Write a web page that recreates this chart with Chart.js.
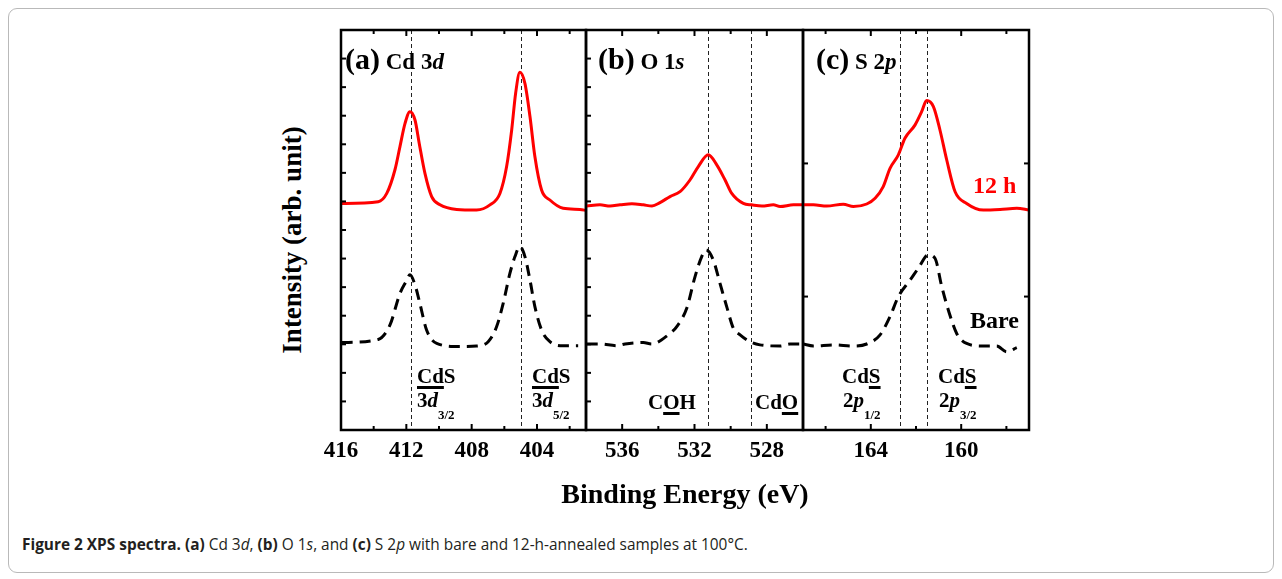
<!DOCTYPE html>
<html>
<head>
<meta charset="utf-8">
<script src="https://cdn.jsdelivr.net/npm/chart.js@4.4.1/dist/chart.umd.min.js"></script>
<style>
  html, body { margin: 0; padding: 0; background: #fff; }
  #page { position: relative; width: 1282px; height: 579px; overflow: hidden; }
  .box { position: absolute; left: 8px; top: 8px; width: 1264px; height: 563px; border: 1px solid #b9b9b9; border-radius: 9px; }
  canvas { position: absolute; }
  .t { position: absolute; font-family: 'Liberation Serif', 'Times New Roman', serif; font-weight: bold; line-height: 1; white-space: nowrap; color: #000; }
  .ann { font-size: 21px; }
  .t u { text-decoration-thickness: 3px; text-underline-offset: 3px; }
  .sub { font-size: 13px; vertical-align: -12px; }
  .cap { position: absolute; font-family: 'Open Sans', 'Noto Sans', sans-serif; font-size: 15.4px; line-height: 1; white-space: nowrap; color: #231f20; }
</style>
</head>
<body>
<div id="page">
  <div class="box"></div>
  <canvas id="panelA" width="305" height="450" style="left:311px;top:20px"></canvas>
  <canvas id="panelB" width="277" height="450" style="left:556px;top:20px"></canvas>
  <canvas id="panelC" width="286" height="450" style="left:773px;top:20px"></canvas>

  <div class="t" style="left:345px;top:44px;font-size:30px">(a)<span style="font-size:23px"> Cd 3<i>d</i></span></div>
  <div class="t" style="left:598px;top:44px;font-size:30px">(b)<span style="font-size:23px"> O 1<i>s</i></span></div>
  <div class="t" style="left:816px;top:44px;font-size:30px">(c)<span style="font-size:23px"> S 2<i>p</i></span></div>

  <div class="t" style="left:973px;top:173px;font-size:24px;color:#ff0000">12 h</div>
  <div class="t" style="left:970px;top:308px;font-size:24px">Bare</div>

  <div class="t ann" style="left:417px;top:366px"><u>Cd</u>S</div>
  <div class="t ann" style="left:417px;top:390px">3<i>d</i><span class="sub">3/2</span></div>
  <div class="t ann" style="left:532px;top:366px"><u>Cd</u>S</div>
  <div class="t ann" style="left:532px;top:390px">3<i>d</i><span class="sub">5/2</span></div>

  <div class="t ann" style="left:648px;top:392px">C<u>O</u>H</div>
  <div class="t ann" style="left:755px;top:392px">Cd<u>O</u></div>

  <div class="t ann" style="left:842px;top:366px">Cd<u>S</u></div>
  <div class="t ann" style="left:843px;top:390px">2<i>p</i><span class="sub">1/2</span></div>
  <div class="t ann" style="left:938px;top:366px">Cd<u>S</u></div>
  <div class="t ann" style="left:939px;top:390px">2<i>p</i><span class="sub">3/2</span></div>

  <div class="t" style="left:292px;top:240px;font-size:27px;transform:translate(-50%,-50%) rotate(-90deg)">Intensity (arb. unit)</div>
  <div class="t" style="left:685px;top:480px;font-size:28px;transform:translateX(-50%)">Binding Energy (eV)</div>

  <div class="cap" style="left:22px;top:537px"><b>Figure 2 XPS spectra.</b> <b>(a)</b> Cd 3<i>d</i>, <b>(b)</b> O 1<i>s</i>, and <b>(c)</b> S 2<i>p</i> with bare and 12-h-annealed samples at 100°C.</div>
</div>

<script>
// tick labels (binding energy, eV)
const ticksA = [416, 412, 408, 404];
const minorA = [414, 410, 406, 402];
const ticksB = [536, 532, 528];
const minorB = [534, 530];
const ticksC = [164, 160];
const minorC = [166, 162, 158];

// peak reference lines
const refA = [411.73, 405.0];
const refB = [531.24, 528.89];
const refC = [162.71, 161.5];

// (a) Cd 3d
const aRedX = [416.06, 413.72, 413.2, 412.7, 412.39, 412.08, 411.78, 411.47, 411.21, 410.86, 410.45, 409.94, 408.92, 407.7, 406.88, 406.27, 405.86, 405.55, 405.31, 405.05, 404.74, 404.43, 404.13, 403.72, 403.21, 402.4, 401.37, 400.96];
const aRedY = [7.93, 7.99, 8.28, 9.1, 9.92, 10.73, 11.14, 10.85, 10.03, 8.98, 8.17, 7.88, 7.72, 7.7, 7.88, 8.28, 9.22, 10.5, 11.78, 12.52, 12.13, 10.97, 9.57, 8.4, 8.05, 7.76, 7.72, 7.68];
const aBareX = [415.96, 413.72, 413.0, 412.39, 412.02, 411.78, 411.47, 411.17, 410.76, 410.14, 408.72, 407.7, 406.99, 406.47, 406.07, 405.66, 405.35, 405.05, 404.74, 404.43, 404.13, 403.72, 403.21, 402.4, 401.48];
const aBareY = [3.06, 3.17, 3.68, 4.78, 5.19, 5.43, 5.08, 4.43, 3.5, 3.03, 2.92, 2.94, 3.09, 3.62, 4.43, 5.48, 6.07, 6.42, 6.07, 5.25, 4.32, 3.5, 3.09, 2.95, 2.95];

// (b) O 1s
const bRedX = [537.96, 537.23, 536.67, 536.12, 535.46, 534.83, 534.35, 533.91, 533.35, 532.8, 532.25, 531.79, 531.24, 530.77, 530.31, 529.94, 529.3, 528.84, 528.27, 527.64, 527.27, 526.53, 526.0];
const bRedY = [7.84, 7.88, 7.84, 7.88, 7.92, 7.88, 7.84, 7.96, 8.17, 8.34, 8.75, 9.22, 9.63, 9.28, 8.75, 8.28, 7.93, 7.88, 7.84, 7.88, 7.82, 7.88, 7.88];
const bBareX = [537.96, 537.23, 536.3, 535.84, 534.83, 534.37, 533.45, 532.98, 532.43, 531.97, 531.6, 531.36, 530.96, 530.59, 530.22, 529.85, 529.48, 528.93, 528.38, 527.27, 526.72, 526.0];
const bBareY = [3.01, 3.01, 2.95, 3.01, 3.06, 3.01, 3.33, 3.62, 4.26, 5.37, 6.07, 6.3, 5.95, 5.13, 4.32, 3.56, 3.33, 3.09, 2.98, 2.94, 3.01, 3.01];

// (c) S 2p
const cRedX = [167.0, 166.54, 165.95, 165.22, 164.77, 164.18, 163.81, 163.45, 163.15, 162.78, 162.49, 162.04, 161.75, 161.53, 161.23, 160.94, 160.64, 160.27, 159.76, 159.02, 158.28, 157.54, 157.0];
const cRedY = [7.88, 7.88, 7.84, 7.9, 7.82, 7.91, 8.11, 8.52, 9.16, 9.63, 10.21, 10.68, 11.14, 11.53, 11.32, 10.5, 9.45, 8.34, 7.93, 7.7, 7.72, 7.76, 7.7];
const cBareX = [167.0, 166.54, 165.66, 164.77, 164.18, 163.59, 163.15, 162.78, 162.26, 161.9, 161.46, 161.16, 160.86, 160.57, 160.2, 159.76, 159.02, 158.43, 157.99, 157.54];
const cBareY = [3.01, 2.94, 2.98, 2.94, 3.01, 3.33, 3.97, 4.67, 5.25, 5.66, 6.13, 6.01, 5.02, 4.2, 3.38, 3.03, 2.94, 2.94, 2.74, 2.88];

// inner y ticks per panel
const yTicksA = [1, 2, 3, 4, 5, 6, 7, 8, 9, 10, 11, 12, 13];
const yTicksB = [1, 2, 3, 4, 5, 6, 7, 8, 9, 10, 11, 12, 13];
const yTicksC = [4.67, 9.33];

const framePlugin = {
    id: 'frame',
    beforeDatasetsDraw(chart, args, opts) {
        const { ctx, chartArea: a, scales: { x } } = chart;
        ctx.save();
        ctx.strokeStyle = '#222';
        ctx.lineWidth = 1;
        ctx.setLineDash([4, 3]);
        opts.refs.forEach(v => {
            const px = Math.round(x.getPixelForValue(v)) + 0.5;
            ctx.beginPath();
            ctx.moveTo(px, a.top);
            ctx.lineTo(px, a.bottom);
            ctx.stroke();
        });
        ctx.restore();
    },
    afterDatasetsDraw(chart, args, opts) {
        const { ctx, chartArea: a, scales: { x, y } } = chart;
        ctx.save();
        ctx.strokeStyle = '#000';
        ctx.lineWidth = 2;
        const line = (x1, y1, x2, y2) => {
            ctx.beginPath();
            ctx.moveTo(x1, y1);
            ctx.lineTo(x2, y2);
            ctx.stroke();
        };
        opts.major.forEach(v => {
            const px = x.getPixelForValue(v);
            line(px, a.bottom, px, a.bottom - 6);
            line(px, a.top, px, a.top + 6);
        });
        opts.minor.forEach(v => {
            const px = x.getPixelForValue(v);
            line(px, a.bottom, px, a.bottom - 4);
            line(px, a.top, px, a.top + 4);
        });
        opts.yTicks.forEach(v => {
            const py = y.getPixelForValue(v);
            line(a.left, py, a.left + 5, py);
            if (opts.rightTicks) line(a.right, py, a.right - 5, py);
        });
        ctx.lineWidth = 2.5;
        ctx.strokeRect(a.left, a.top, a.right - a.left, a.bottom - a.top);
        ctx.restore();
    }
};

function pairs(xs, ys) {
    return xs.map((v, i) => ({ x: v, y: ys[i] }));
}

function makePanel(id, min, max, labels, minor, refs, yTicks, rightTicks, redX, redY, bareX, bareY) {
    return new Chart(document.getElementById(id), {
        type: 'line',
        data: {
            datasets: [{
                label: '12 h',
                data: pairs(redX, redY),
                borderColor: '#ff0000',
                borderWidth: 3,
                pointRadius: 0,
                cubicInterpolationMode: 'monotone'
            }, {
                label: 'Bare',
                data: pairs(bareX, bareY),
                borderColor: '#000',
                borderWidth: 3,
                borderDash: [11, 7],
                pointRadius: 0,
                cubicInterpolationMode: 'monotone'
            }]
        },
        options: {
            responsive: false,
            animation: false,
            devicePixelRatio: 1,
            layout: { padding: { left: 30, right: 30, top: 10, bottom: 0 } },
            plugins: {
                legend: { display: false },
                tooltip: { enabled: false },
                frame: { major: labels, minor: minor, refs: refs, yTicks: yTicks, rightTicks: rightTicks }
            },
            scales: {
                x: {
                    type: 'linear',
                    reverse: true,
                    min: min,
                    max: max,
                    grid: { display: false, drawTicks: false },
                    border: { display: false },
                    afterBuildTicks: s => { s.ticks = labels.map(v => ({ value: v })); },
                    afterFit: s => { s.height = 40; },
                    ticks: {
                        autoSkip: false,
                        maxRotation: 0,
                        padding: 7,
                        color: '#000',
                        font: { family: "'Liberation Serif', serif", size: 23, weight: 'bold' }
                    }
                },
                y: { display: false, min: 0, max: 14 }
            }
        },
        plugins: [framePlugin]
    });
}

makePanel('panelA', 401, 416, ticksA, minorA, refA, yTicksA, false, aRedX, aRedY, aBareX, aBareY);
makePanel('panelB', 526, 538, ticksB, minorB, refB, yTicksB, false, bRedX, bRedY, bBareX, bBareY);
makePanel('panelC', 157, 167, ticksC, minorC, refC, yTicksC, true, cRedX, cRedY, cBareX, cBareY);
</script>
</body>
</html>
